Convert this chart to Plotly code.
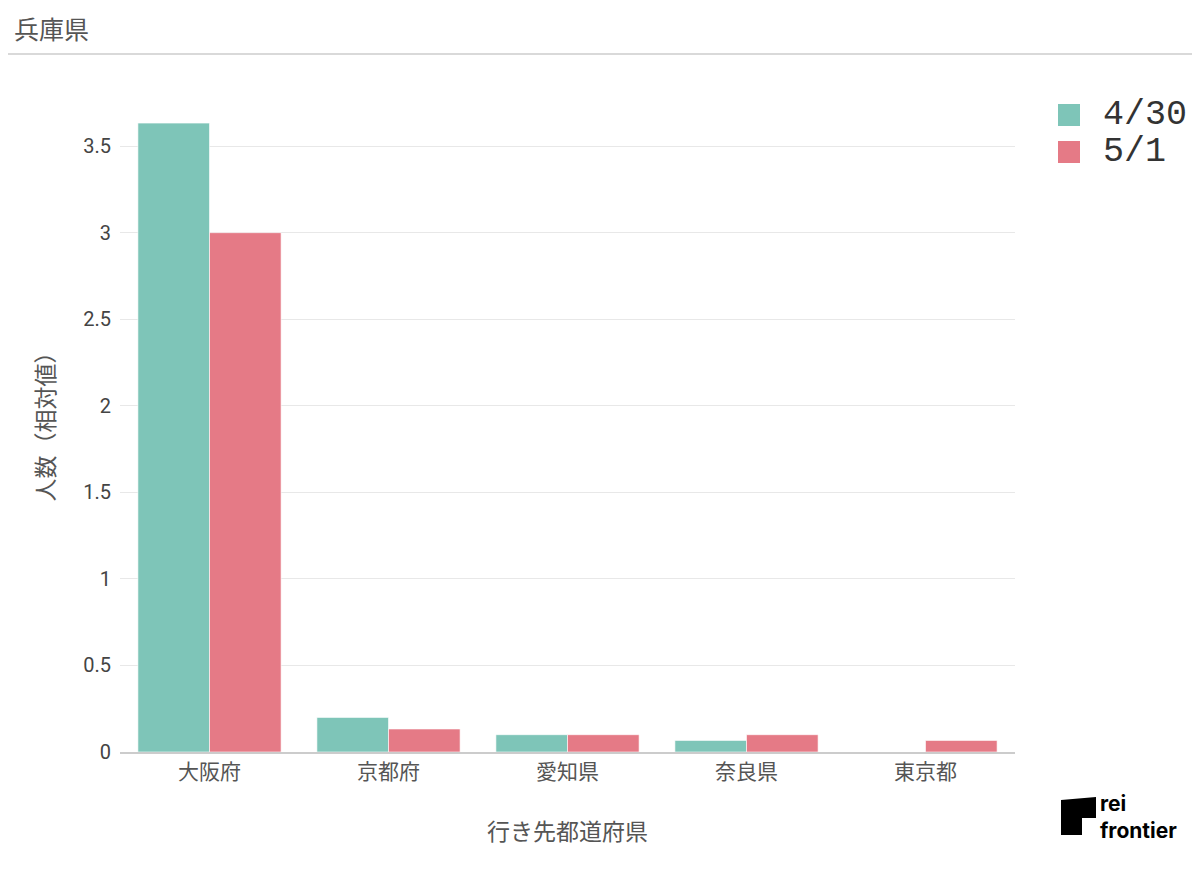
import plotly.graph_objects as go

# 兵庫県からの行き先（相対値）
prefectures = ["大阪府", "京都府", "愛知県", "奈良県", "東京都"]
dates = ["4/30", "5/1"]
values_0430 = [3.633, 0.2, 0.1, 0.067, 0.0]
values_0501 = [3.0, 0.133, 0.1, 0.1, 0.067]
colors = ["#7EC5B8", "#E57A86"]
y_ticks = [0, 0.5, 1, 1.5, 2, 2.5, 3, 3.5]

W, H = 1200, 874
OFF = 8  # page body margin
L, T = 120 - OFF, 90 - OFF
PW, PH = 895, 662
R, B = W - L - PW, H - T - PH


def px_x(x):
    return (x - OFF - L) / PW


def px_y(y):
    return (T + PH - (y - OFF)) / PH


fig = go.Figure()
for name, vals, col in zip(dates, [values_0430, values_0501], colors):
    fig.add_trace(go.Bar(
        x=prefectures, y=vals, name=name, showlegend=False,
        marker=dict(color=col, line=dict(color="rgba(255,255,255,0.6)", width=1)),
    ))

jp = "Noto Sans CJK JP, Noto Sans, sans-serif"

fig.update_layout(
    width=W, height=H,
    margin=dict(l=L, r=R, t=T, b=B, autoexpand=False),
    barmode="group", bargap=0.2, bargroupgap=0,
    plot_bgcolor="white", paper_bgcolor="white",
    font=dict(family=jp, size=18, color="#444"),
    showlegend=False,
    xaxis=dict(
        title=dict(text="行き先都道府県", font=dict(size=23, color="#555"), standoff=40),
        showline=True, linecolor="#ccc", linewidth=1.5,
        tickfont=dict(size=21, color="#555"),
    ),
    yaxis=dict(
        title=dict(text="人数（相対値）", font=dict(size=23, color="#555"), standoff=22),
        tickvals=y_ticks, ticktext=[f"{v:g}" for v in y_ticks],
        gridcolor="#e8e8e8", zeroline=False,
        tickfont=dict(family="Roboto, Arial, sans-serif", size=20, color="#444"),
        ticks="outside", ticklen=4, tickcolor="white",
    ),
)

# legend drawn by hand (large squares, tight rows)
for i, (name, col) in enumerate(zip(dates, colors)):
    yc = 115 + i * 37
    fig.add_shape(
        type="rect", xref="paper", yref="paper", fillcolor=col, line=dict(width=0),
        x0=px_x(1058), x1=px_x(1080), y0=px_y(yc - 11), y1=px_y(yc + 11),
    )
    fig.add_annotation(
        text=name, xref="paper", yref="paper",
        x=px_x(1101), y=px_y(yc), xanchor="left", yanchor="middle",
        showarrow=False,
        font=dict(family="Liberation Mono, DejaVu Sans Mono, monospace", size=35, color="#333"),
    )

# header title and separator line
fig.add_annotation(
    text="兵庫県", xref="paper", yref="paper",
    x=px_x(12), y=px_y(28), xanchor="left", yanchor="middle",
    showarrow=False, font=dict(size=25, color="#555"),
)
fig.add_shape(
    type="line", xref="paper", yref="paper",
    x0=px_x(0), x1=px_x(W + OFF), y0=px_y(54), y1=px_y(54),
    line=dict(color="#ccc", width=1.5),
)

# logo
fig.add_shape(
    type="path", xref="paper", yref="paper", fillcolor="black", line=dict(width=0),
    path=(f"M {px_x(1061)},{px_y(800)} L {px_x(1096)},{px_y(797)} "
          f"L {px_x(1096)},{px_y(818)} L {px_x(1082)},{px_y(818)} "
          f"L {px_x(1082)},{px_y(835)} L {px_x(1061)},{px_y(835)} Z"),
)
fig.add_annotation(
    text="<b>rei<br>frontier</b>", xref="paper", yref="paper",
    x=px_x(1098), y=px_y(817), xanchor="left", yanchor="middle", align="left",
    showarrow=False, font=dict(family="Inter, Roboto, sans-serif", size=21, color="black"),
)

fig.write_html("out.html")
